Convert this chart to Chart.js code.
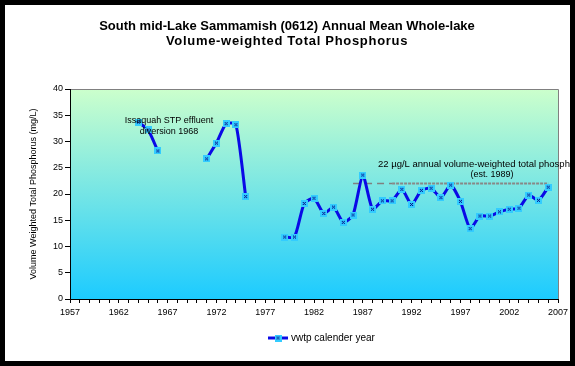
<!DOCTYPE html>
<html>
<head>
<meta charset="utf-8">
<script src="https://cdn.jsdelivr.net/npm/chart.js@4"></script>
<style>
  html, body { margin: 0; padding: 0; background: #000; overflow: hidden; }
  canvas { display: block; }
</style>
</head>
<body>
<canvas id="tp" width="575" height="366"></canvas>
<script>
// annual mean whole-lake volume-weighted TP, gaps are null
const years = [1964, 1965, 1966, 1967, 1968, 1969, 1970, 1971, 1972, 1973, 1974, 1975,
  1976, 1977, 1978, 1979, 1980, 1981, 1982, 1983, 1984, 1985, 1986, 1987, 1988, 1989,
  1990, 1991, 1992, 1993, 1994, 1995, 1996, 1997, 1998, 1999, 2000, 2001, 2002, 2003,
  2004, 2005, 2006];
const tp = [33.7, 32.2, 28.2, null, null, null, null, 26.7, 29.7, 33.4, 33.2, 19.5,
  null, null, null, 11.8, 11.8, 18.2, 19.2, 16.3, 17.5, 14.6, 16.0, 23.6, 17.1, 18.7,
  18.7, 20.9, 18.0, 20.7, 21.1, 19.3, 21.7, 18.6, 13.4, 15.8, 15.8, 16.6, 17.1, 17.3,
  19.8, 18.8, 21.3];

// 22 ug/L goal line
const goalValue = 22;
const goalDashYears = [1986, 1990];
const goalYears = [1990, 2006];

const xTicks = [1957, 1962, 1967, 1972, 1977, 1982, 1987, 1992, 1997, 2002, 2007];

const FONT = 'Liberation Sans, Arial, sans-serif';
const LINE_BLUE = '#0a0ae6';

Chart.defaults.font.family = FONT;
Chart.defaults.color = '#000';

// marker: cyan square with a dark cross
function makeMarker() {
  const c = document.createElement('canvas');
  c.width = 7; c.height = 7;
  const g = c.getContext('2d');
  g.fillStyle = '#33ccff';
  g.fillRect(0, 0, 7, 7);
  g.fillStyle = '#000080';
  [[2, 2], [4, 2], [3, 3], [2, 4], [4, 4]].forEach(([x, y]) => g.fillRect(x, y, 1, 1));
  return c;
}
const marker = makeMarker();

const frame = {
  id: 'frame',
  beforeDraw(chart) {
    const { ctx, chartArea: a } = chart;
    ctx.save();
    ctx.fillStyle = '#000';
    ctx.fillRect(0, 0, chart.width, chart.height);
    ctx.fillStyle = '#fff';
    ctx.fillRect(5, 5, 565, 356);
    const grad = ctx.createLinearGradient(0, a.top, 0, a.bottom);
    grad.addColorStop(0, '#ccffcc');
    grad.addColorStop(1, '#1ccbff');
    ctx.fillStyle = grad;
    ctx.fillRect(a.left, a.top, a.right - a.left, a.bottom - a.top);
    ctx.strokeStyle = '#808080';
    ctx.lineWidth = 1;
    ctx.beginPath();
    ctx.moveTo(a.left, a.top + 0.5);
    ctx.lineTo(a.right + 0.5, a.top + 0.5);
    ctx.lineTo(a.right + 0.5, a.bottom);
    ctx.stroke();
    ctx.restore();
  },
  afterDraw(chart) {
    const { ctx } = chart;
    ctx.save();
    ctx.fillStyle = '#000';
    ctx.textBaseline = 'middle';

    // title
    ctx.textAlign = 'center';
    ctx.font = 'bold 13px ' + FONT;
    ctx.fillText('South mid-Lake Sammamish (0612) Annual Mean Whole-lake', 287, 26);
    ctx.letterSpacing = '0.7px';
    ctx.fillText('Volume-weighted Total Phosphorus', 287, 41);
    ctx.letterSpacing = '0px';

    // notes
    ctx.font = '9px ' + FONT;
    ctx.fillText('Issaquah STP effluent', 169, 121);
    ctx.fillText('diversion 1968', 169, 132);
    ctx.fillText('(est. 1989)', 492, 175);

    ctx.save();
    ctx.beginPath();
    ctx.rect(5, 5, 565, 356);
    ctx.clip();
    ctx.textAlign = 'left';
    ctx.font = '9.5px ' + FONT;
    ctx.fillText('22 \u00b5g/L annual volume-weighted total phosphorus', 378, 164);
    ctx.restore();

    // legend
    const ly = 338;
    ctx.strokeStyle = LINE_BLUE;
    ctx.lineWidth = 3;
    ctx.beginPath();
    ctx.moveTo(268, ly);
    ctx.lineTo(288, ly);
    ctx.stroke();
    ctx.drawImage(marker, 278 - 3.5, ly - 3.5);
    ctx.textAlign = 'left';
    ctx.font = '10px ' + FONT;
    ctx.fillText('vwtp calender year', 291, ly);
    ctx.restore();
  }
};

new Chart(document.getElementById('tp'), {
  type: 'line',
  data: {
    datasets: [
      {
        label: 'vwtp calender year',
        data: years.map((y, i) => ({ x: y, y: tp[i] })),
        borderColor: LINE_BLUE,
        borderWidth: 3,
        tension: 0.2,
        spanGaps: false,
        pointStyle: marker,
        pointRadius: 3,
      },
      {
        label: 'goal dashed',
        data: goalDashYears.map((y) => ({ x: y, y: goalValue })),
        borderColor: '#808080',
        borderWidth: 1.5,
        borderDash: [7, 5],
        pointRadius: 0,
      },
      {
        label: 'goal',
        data: goalYears.map((y) => ({ x: y, y: goalValue })),
        borderColor: '#888888',
        borderWidth: 2,
        borderDash: [3, 1],
        pointRadius: 0,
      },
    ],
  },
  options: {
    responsive: false,
    animation: false,
    layout: { padding: { left: 10, right: 17, top: 89, bottom: 42 } },
    plugins: {
      legend: { display: false },
      title: { display: false },
      tooltip: { enabled: false },
    },
    scales: {
      x: {
        type: 'linear',
        min: xTicks[0],
        max: xTicks[xTicks.length - 1],
        afterFit: (s) => { s.height = 25; },
        grid: { drawOnChartArea: false, tickLength: 4, tickColor: '#000' },
        border: { color: '#000' },
        ticks: {
          stepSize: 1,
          autoSkip: false,
          maxRotation: 0,
          padding: 4,
          font: { size: 9 },
          callback: (v) => (xTicks.includes(v) ? String(v) : ''),
        },
      },
      y: {
        min: 0,
        max: 40,
        afterFit: (s) => { s.width = 60; },
        grid: { drawOnChartArea: false, tickLength: 5, tickColor: '#000' },
        border: { color: '#000' },
        ticks: { stepSize: 5, padding: 2, font: { size: 9 } },
        title: {
          display: true,
          text: 'Volume Weighted Total Phosphorus (mg/L)',
          font: { size: 9 },
          padding: { top: 18, bottom: 0 },
        },
      },
    },
  },
  plugins: [frame],
});
</script>
</body>
</html>
